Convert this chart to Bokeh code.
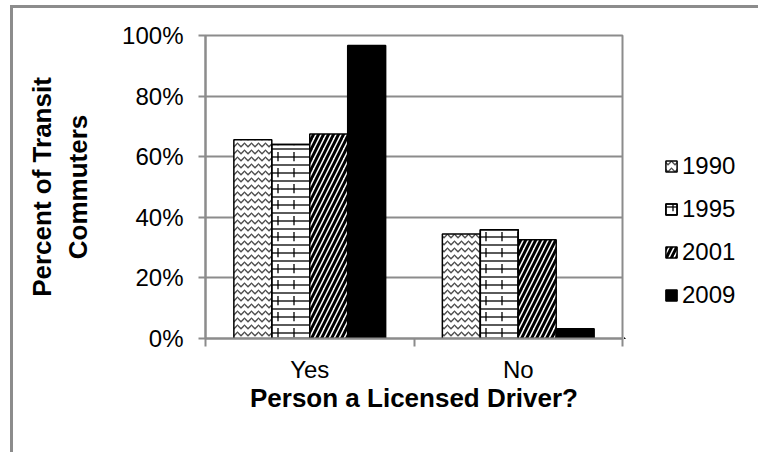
from bokeh.plotting import figure
from bokeh.layouts import row
from bokeh.models import (ColumnDataSource, FixedTicker, Legend, LegendItem,
                          PrintfTickFormatter)
from bokeh.transform import dodge
from bokeh.embed import file_html
from bokeh.resources import INLINE

# ---- data ----
categories = ["Yes", "No"]
years = ["1990", "1995", "2001", "2009"]
pct_1990 = [65.6, 34.5]
pct_1995 = [64.0, 35.9]
pct_2001 = [67.5, 32.6]
pct_2009 = [96.7, 3.2]
y_ticks = [0, 20, 40, 60, 80, 100]

xpos = [i + 0.5 for i in range(len(categories))]
source = ColumnDataSource(dict(x=xpos, cat=categories,
                               y1990=pct_1990, y1995=pct_1995,
                               y2001=pct_2001, y2009=pct_2009))

FONT = "Liberation Sans"
GREY = "#8c8c8c"

styles = {
    "1990": [dict(fill_color="white", hatch_pattern="horizontal_wave", hatch_color="#4d4d4d",
                  hatch_scale=7, hatch_weight=1.3)],
    "1995": [dict(fill_color="white", hatch_pattern="horizontal_line", hatch_color="black",
                  hatch_scale=8, hatch_weight=1.3),
             dict(fill_alpha=0, hatch_pattern="vertical_dash", hatch_color="black",
                  hatch_scale=16, hatch_weight=1.3)],
    "2001": [dict(fill_color="white", hatch_pattern="right_diagonal_line", hatch_color="black",
                  hatch_scale=10, hatch_weight=3)],
    "2009": [dict(fill_color="black")],
}

p = figure(width=611, height=444, x_range=(0, 2), y_range=(0, 100),
           output_backend="svg", toolbar_location=None,
           min_border_left=192, min_border_top=27, min_border_right=2,
           min_border_bottom=114)

w = 0.182
offsets = [-1.5 * w, -0.5 * w, 0.5 * w, 1.5 * w]
for yr, off in zip(years, offsets):
    for st in styles[yr]:
        p.vbar(x=dodge("x", off, range=p.x_range), top="y" + yr, width=w, bottom=0,
               source=source, line_color="black", line_width=1.5, **st)

# axes
p.xaxis.ticker = FixedTicker(ticks=xpos, minor_ticks=[0, 1, 2])
p.xaxis.major_label_overrides = {x: c for x, c in zip(xpos, categories)}
p.xaxis.major_tick_out = 0
p.xaxis.major_tick_in = 0
p.xaxis.minor_tick_out = 8
p.xaxis.minor_tick_in = 0
p.xaxis.minor_tick_line_color = GREY
p.xaxis.minor_tick_line_width = 2
p.yaxis.ticker = FixedTicker(ticks=y_ticks, minor_ticks=[])
p.yaxis.formatter = PrintfTickFormatter(format="%d%%")
p.yaxis.major_tick_out = 7
p.yaxis.major_tick_in = 0
p.yaxis.major_tick_line_color = GREY
p.yaxis.major_tick_line_width = 2
for ax in (p.xaxis, p.yaxis):
    ax.axis_line_color = GREY
    ax.axis_line_width = 2
    ax.major_label_text_font = FONT
    ax.major_label_text_font_size = "24px"
    ax.major_label_text_color = "black"
    ax.axis_label_text_font = FONT
    ax.axis_label_text_font_size = "26px"
    ax.axis_label_text_font_style = "bold"
    ax.axis_label_text_color = "black"
p.xaxis.axis_label = "Person a Licensed Driver?"
p.yaxis.axis_label = "Percent of Transit\nCommuters"
p.xaxis.major_label_standoff = 9
p.yaxis.major_label_standoff = 15
p.xaxis.axis_label_standoff = -3
p.yaxis.axis_label_standoff = 26

p.xgrid.visible = False
p.ygrid.ticker = FixedTicker(ticks=y_ticks)
p.ygrid.grid_line_color = GREY
p.ygrid.grid_line_width = 2
p.outline_line_color = GREY
p.outline_line_width = 2

# legend panel: a second figure whose ranges keep its copies of the bars out of view
q = figure(width=134, height=444, x_range=(10, 11), y_range=(1000, 1100),
           output_backend="svg", toolbar_location=None,
           x_axis_location=None, y_axis_location=None, min_border=0)
q.grid.visible = False
q.outline_line_color = None
items = []
for yr in years:
    rs = [q.vbar(x="x", top="y" + yr, width=w, bottom=0, source=source,
                 line_color="black", line_width=1.5, **st)
          for st in styles[yr]]
    items.append(LegendItem(label=yr, renderers=rs))
legend = Legend(items=items, location=(40, 29), orientation="vertical",
                glyph_width=14, glyph_height=14, label_text_font=FONT,
                label_text_font_size="24px", label_text_color="black",
                label_height=24, spacing=15, padding=0, margin=0,
                label_standoff=4, border_line_color=None, background_fill_alpha=0)
q.add_layout(legend)

layout = row(p, q, spacing=0)
layout.styles = {"border-left": f"3px solid {GREY}", "border-top": f"3px solid {GREY}",
                 "margin-top": "5px", "margin-left": "10px"}

open("out.html", "w").write(file_html(layout, INLINE))
